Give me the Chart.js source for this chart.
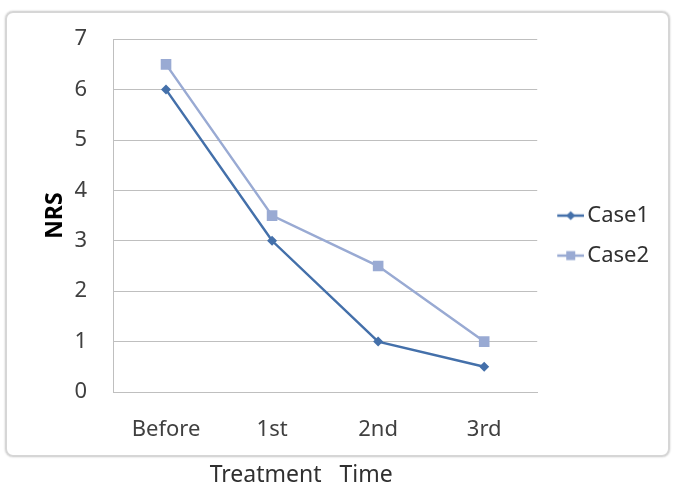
<!DOCTYPE html>
<html>
<head>
<meta charset="utf-8">
<script src="https://cdn.jsdelivr.net/npm/chart.js@4.4.1/dist/chart.umd.min.js"></script>
<style>
    html, body { margin: 0; padding: 0; background: #fff; }
    #contenedor { position: relative; width: 674px; height: 487px; }
    #marco {
        position: absolute; left: 5px; top: 11px; width: 661px; height: 442px;
        border: 2px solid #d6d6d6; border-radius: 8px; box-shadow: 0 0 2px #c4c4c4;
    }
    #grafica { position: absolute; left: 0; top: 0; }
</style>
</head>
<body>
<div id="contenedor">
    <div id="marco"></div>
    <canvas id="grafica" width="674" height="487"></canvas>
</div>
<script>
// datos
const categorias = ['Before', '1st', '2nd', '3rd'];
const case1 = [6, 3, 1, 0.5];
const case2 = [6.5, 3.5, 2.5, 1];
const nombres = ['Case1', 'Case2'];

const colorCase1 = '#4470aa';
const colorCase2 = '#99aad3';
const fuente = "'Noto Sans', 'Open Sans', sans-serif";

// marcador de leyenda: linea con el punto en medio (con hueco a la izquierda)
function marcadorLeyenda(color, forma) {
    const c = document.createElement('canvas');
    c.width = 37;
    c.height = 12;
    const g = c.getContext('2d');
    g.strokeStyle = color;
    g.lineWidth = 2.5;
    g.beginPath();
    g.moveTo(10, 6);
    g.lineTo(37, 6);
    g.stroke();
    g.fillStyle = color;
    g.beginPath();
    if (forma === 'diamante') {
        g.moveTo(23.5, 1.5); g.lineTo(28, 6); g.lineTo(23.5, 10.5); g.lineTo(19, 6);
    } else {
        g.rect(19, 1.5, 9, 9);
    }
    g.closePath();
    g.fill();
    return c;
}

const data = {
    labels: categorias,
    datasets: [{
        label: nombres[0],
        data: case1,
        borderColor: colorCase1,
        backgroundColor: colorCase1,
        borderWidth: 2.5,
        pointStyle: 'rectRot',
        pointRadius: 5,
        pointBorderWidth: 0,
        tension: 0
    }, {
        label: nombres[1],
        data: case2,
        borderColor: colorCase2,
        backgroundColor: colorCase2,
        borderWidth: 2.5,
        pointStyle: 'rect',
        pointRadius: 7.5,
        pointBorderWidth: 0,
        tension: 0
    }]
};

const marcadores = [marcadorLeyenda(colorCase1, 'diamante'), marcadorLeyenda(colorCase2, 'cuadro')];

const config = {
    type: 'line',
    data: data,
    options: {
        responsive: false,
        animation: false,
        layout: { padding: { top: 38, left: 42, bottom: 0, right: 15 } },
        scales: {
            x: {
                offset: true,
                afterFit: function (scale) { scale.height = 95; },
                grid: { display: false, drawTicks: false },
                border: { display: true, color: '#bfbfbf', width: 1 },
                ticks: { color: '#404040', padding: 25, font: { family: fuente, size: 22 } },
                title: {
                    display: true,
                    text: 'Treatment   Time        ',
                    color: '#303030',
                    padding: { top: 20, bottom: 0 },
                    font: { family: fuente, size: 23, lineHeight: 1 }
                }
            },
            y: {
                min: 0,
                max: 7,
                afterFit: function (scale) { scale.width = 71; },
                grid: { color: '#bfbfbf', lineWidth: 1, drawTicks: false },
                border: { display: true, color: '#bfbfbf', width: 1 },
                ticks: { stepSize: 1, color: '#404040', padding: 26, font: { family: fuente, size: 22 } },
                title: {
                    display: true,
                    text: 'NRS',
                    color: '#000',
                    padding: { top: 0, bottom: 8 },
                    font: { family: fuente, size: 23, weight: 'bold' }
                }
            }
        },
        plugins: {
            legend: {
                position: 'right',
                fullSize: false,
                title: {
                    display: true,
                    text: ' ',
                    padding: { top: 0, bottom: 13.6 },
                    font: { family: fuente, size: 22 }
                },
                labels: {
                    color: '#303030',
                    font: { family: fuente, size: 22 },
                    usePointStyle: true,
                    pointStyleWidth: 21,
                    padding: 18,
                    generateLabels: function (chart) {
                        return chart.data.datasets.map(function (ds, i) {
                            return {
                                text: ds.label,
                                pointStyle: marcadores[i],
                                fillStyle: ds.backgroundColor,
                                strokeStyle: ds.borderColor,
                                lineWidth: 0,
                                fontColor: '#303030',
                                datasetIndex: i
                            };
                        });
                    }
                }
            },
            tooltip: { enabled: false }
        }
    }
};

const ctx = document.getElementById('grafica').getContext('2d');
window.graficaNRS = new Chart(ctx, config);
</script>
</body>
</html>
